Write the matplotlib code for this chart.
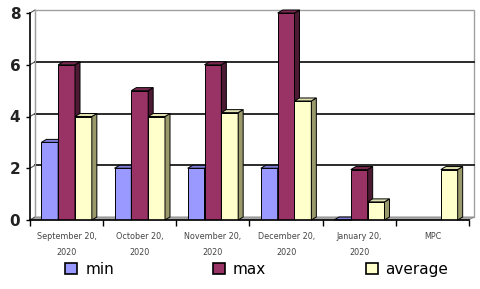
import numpy as np
import matplotlib
matplotlib.use("Agg")
import matplotlib.pyplot as plt
from matplotlib.patches import Polygon, Rectangle

categories = ["September 20,\n2020", "October 20,\n2020", "November 20,\n2020",
              "December 20,\n2020", "January 20,\n2020", "MPC"]
min_vals = [3.0, 2.0, 2.0, 2.0, 0.0, np.nan]
max_vals = [6.0, 5.0, 6.0, 8.0, 1.95, np.nan]
avg_vals = [4.0, 4.0, 4.15, 4.6, 0.7, 1.95]
series_names = ["min", "max", "average"]
yticks = [0, 2, 4, 6, 8]

front_cols = ["#9999FF", "#993366", "#FFFFCC"]
side_cols = ["#5c5c99", "#4d1a33", "#99996b"]
top_cols = ["#8080d9", "#7a2950", "#e0e0b0"]

fig = plt.figure(figsize=(4.8, 2.89), dpi=100)
ax = fig.add_axes([30/480, 1-220/289, 439/480, 207/289])
x = np.arange(len(categories))
ax.set_xlim(-0.5, len(categories) - 0.5)
ax.set_ylim(0, 8)

# depth in data units
dx = 5/73
dy = 3/25.9

# back wall and floor
ax.add_patch(Rectangle((-0.5 + dx, dy), len(categories), 8, facecolor="white",
                       edgecolor="#a0a0a0", lw=1.0, zorder=0, clip_on=False))
ax.add_patch(Polygon([(-0.5, 0), (len(categories) - 0.5, 0),
                      (len(categories) - 0.5 + dx, dy), (-0.5 + dx, dy)],
                     closed=True, facecolor="#a8a8a8", edgecolor="#808080",
                     lw=0.5, zorder=0.5, clip_on=False))
for v in yticks[1:-1]:
    ax.plot([-0.5 + dx, len(categories) - 0.5 + dx], [v + dy, v + dy],
            color="#1a1a1a", lw=1.3, zorder=0.6, clip_on=False)
for v in yticks:
    ax.plot([-0.5, -0.5 + dx], [v, v + dy], color="#555555", lw=0.8,
            zorder=0.6, clip_on=False)
ax.plot([-0.5 + dx, -0.5 + dx], [dy, 8 + dy], color="#a0a0a0", lw=0.8,
        zorder=0.6, clip_on=False)

w = 0.23
offsets = [-w, 0, w]
vals = [min_vals, max_vals, avg_vals]
handles = []
for gi in range(len(categories)):
    for si in range(3):
        h = vals[si][gi]
        if np.isnan(h):
            continue
        c = x[gi] + offsets[si]
        z = 2 + gi * 3 + si
        ax.bar(c, h, width=w, color=front_cols[si], edgecolor="black",
               lw=0.7, zorder=z)
        l, r = c - w/2, c + w/2
        ax.add_patch(Polygon([(r, 0), (r + dx, dy), (r + dx, h + dy), (r, h)],
                             closed=True, facecolor=side_cols[si],
                             edgecolor="black", lw=0.7, zorder=z, clip_on=False))
        ax.add_patch(Polygon([(l, h), (r, h), (r + dx, h + dy), (l + dx, h + dy)],
                             closed=True, facecolor=top_cols[si],
                             edgecolor="black", lw=0.7, zorder=z, clip_on=False))

for si in range(3):
    handles.append(Rectangle((0, 0), 1, 1, facecolor=front_cols[si],
                             edgecolor="black", lw=1.2))

for s in ["top", "right"]:
    ax.spines[s].set_visible(False)
ax.spines["left"].set_color("black")
ax.spines["left"].set_linewidth(1.2)
ax.spines["left"].set_zorder(50)
ax.spines["bottom"].set_color("black")
ax.spines["bottom"].set_linewidth(1.2)
ax.spines["bottom"].set_zorder(50)

ax.set_yticks(yticks)
ax.set_yticklabels([str(v) for v in yticks], fontsize=11, fontweight="bold",
                   color="#222222")
ax.tick_params(axis="y", length=3, width=1, pad=4)

ax.set_xticks(np.arange(len(categories) + 1) - 0.5)
ax.set_xticklabels([])
ax.tick_params(axis="x", length=4, width=1, direction="out")
for i, lab in enumerate(categories):
    ax.text(x[i], -0.45, lab, ha="center", va="top", fontsize=5.8,
            color="#444444", linespacing=2.1)

fig.legend(handles, series_names, ncol=3, loc="center",
           bbox_to_anchor=(0.535, 0.068), frameon=False, fontsize=11,
           handlelength=0.8, handleheight=0.8, handletextpad=0.5,
           columnspacing=6.5)

fig.savefig("out.png", dpi=100)
